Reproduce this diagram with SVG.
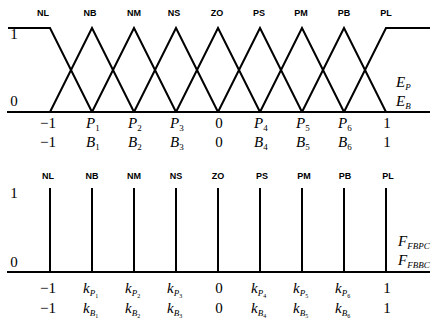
<svg xmlns="http://www.w3.org/2000/svg" width="433" height="320" viewBox="0 0 433 320">
<style>
.ln{stroke:#000;stroke-width:2;fill:none;stroke-linejoin:miter}
.tag{font-family:"Liberation Sans",Arial,sans-serif;font-size:9px;font-weight:bold;text-anchor:middle}
.num{font-family:"Liberation Serif","Times New Roman",serif;font-size:15px;text-anchor:middle}
.it{font-family:"Liberation Serif","Times New Roman",serif;font-size:15px;font-style:italic}
.sub{font-size:9px}
.d{font-style:normal}
.dd{font-style:normal;font-size:6px}
</style>
<rect width="433" height="320" fill="#fff"/>
<g id="top-chart">
<g id="top-axis"><line class="ln" x1="7" y1="112" x2="430" y2="112"/></g>
<g id="connectors">
<path class="ln" d="M8 28 H50 L92 112"/>
<path class="ln" d="M50 112 L92 28 L134 112"/>
<path class="ln" d="M92 112 L134 28 L176 112"/>
<path class="ln" d="M134 112 L176 28 L218 112"/>
<path class="ln" d="M176 112 L218 28 L260 112"/>
<path class="ln" d="M218 112 L260 28 L302 112"/>
<path class="ln" d="M260 112 L302 28 L344 112"/>
<path class="ln" d="M302 112 L344 28 L386 112"/>
<path class="ln" d="M344 112 L386 28 H430"/>
</g>
<g id="top-tags">
<text class="tag" x="43" y="16">NL</text>
<text class="tag" x="90" y="16">NB</text>
<text class="tag" x="134" y="16">NM</text>
<text class="tag" x="174" y="16">NS</text>
<text class="tag" x="217" y="16">ZO</text>
<text class="tag" x="259" y="16">PS</text>
<text class="tag" x="301" y="16">PM</text>
<text class="tag" x="344" y="16">PB</text>
<text class="tag" x="386" y="16">PL</text>
</g>
<text class="num" x="14" y="39">1</text>
<text class="num" x="14" y="106">0</text>
<g id="top-row1">
<text class="num" x="48" y="128">−1</text>
<text class="it" x="86" y="128">P<tspan class="sub d" dy="3">1</tspan></text>
<text class="it" x="128" y="128">P<tspan class="sub d" dy="3">2</tspan></text>
<text class="it" x="170" y="128">P<tspan class="sub d" dy="3">3</tspan></text>
<text class="num" x="219" y="128">0</text>
<text class="it" x="254" y="128">P<tspan class="sub d" dy="3">4</tspan></text>
<text class="it" x="296" y="128">P<tspan class="sub d" dy="3">5</tspan></text>
<text class="it" x="338" y="128">P<tspan class="sub d" dy="3">6</tspan></text>
<text class="num" x="387" y="128">1</text>
</g>
<g id="top-row2">
<text class="num" x="48" y="147">−1</text>
<text class="it" x="86" y="147">B<tspan class="sub d" dy="3">1</tspan></text>
<text class="it" x="128" y="147">B<tspan class="sub d" dy="3">2</tspan></text>
<text class="it" x="170" y="147">B<tspan class="sub d" dy="3">3</tspan></text>
<text class="num" x="219" y="147">0</text>
<text class="it" x="254" y="147">B<tspan class="sub d" dy="3">4</tspan></text>
<text class="it" x="296" y="147">B<tspan class="sub d" dy="3">5</tspan></text>
<text class="it" x="338" y="147">B<tspan class="sub d" dy="3">6</tspan></text>
<text class="num" x="387" y="147">1</text>
</g>
<text class="it" x="396" y="87">E<tspan class="sub" dy="3">P</tspan></text>
<text class="it" x="396" y="106">E<tspan class="sub" dy="3">B</tspan></text>
</g>
<g id="bottom-chart">
<g id="bottom-axis"><line class="ln" x1="7" y1="272" x2="430" y2="272"/></g>
<g id="singletons">
<line class="ln" x1="50" y1="188" x2="50" y2="272"/>
<line class="ln" x1="92" y1="188" x2="92" y2="272"/>
<line class="ln" x1="134" y1="188" x2="134" y2="272"/>
<line class="ln" x1="176" y1="188" x2="176" y2="272"/>
<line class="ln" x1="218" y1="188" x2="218" y2="272"/>
<line class="ln" x1="260" y1="188" x2="260" y2="272"/>
<line class="ln" x1="302" y1="188" x2="302" y2="272"/>
<line class="ln" x1="344" y1="188" x2="344" y2="272"/>
<line class="ln" x1="386" y1="188" x2="386" y2="272"/>
</g>
<g id="bottom-tags">
<text class="tag" x="48" y="179">NL</text>
<text class="tag" x="92" y="179">NB</text>
<text class="tag" x="134" y="179">NM</text>
<text class="tag" x="176" y="179">NS</text>
<text class="tag" x="218" y="179">ZO</text>
<text class="tag" x="262" y="179">PS</text>
<text class="tag" x="304" y="179">PM</text>
<text class="tag" x="345" y="179">PB</text>
<text class="tag" x="388" y="179">PL</text>
</g>
<text class="num" x="14" y="198">1</text>
<text class="num" x="14" y="267">0</text>
<g id="bottom-row1">
<text class="num" x="48" y="293">−1</text>
<text class="it" x="83" y="293">k<tspan class="sub" dy="3">P</tspan><tspan class="dd" dy="2">1</tspan></text>
<text class="it" x="125" y="293">k<tspan class="sub" dy="3">P</tspan><tspan class="dd" dy="2">2</tspan></text>
<text class="it" x="167" y="293">k<tspan class="sub" dy="3">P</tspan><tspan class="dd" dy="2">3</tspan></text>
<text class="num" x="219" y="293">0</text>
<text class="it" x="251" y="293">k<tspan class="sub" dy="3">P</tspan><tspan class="dd" dy="2">4</tspan></text>
<text class="it" x="293" y="293">k<tspan class="sub" dy="3">P</tspan><tspan class="dd" dy="2">5</tspan></text>
<text class="it" x="335" y="293">k<tspan class="sub" dy="3">P</tspan><tspan class="dd" dy="2">6</tspan></text>
<text class="num" x="387" y="293">1</text>
</g>
<g id="bottom-row2">
<text class="num" x="48" y="313">−1</text>
<text class="it" x="83" y="313">k<tspan class="sub" dy="3">B</tspan><tspan class="dd" dy="2">1</tspan></text>
<text class="it" x="125" y="313">k<tspan class="sub" dy="3">B</tspan><tspan class="dd" dy="2">2</tspan></text>
<text class="it" x="167" y="313">k<tspan class="sub" dy="3">B</tspan><tspan class="dd" dy="2">3</tspan></text>
<text class="num" x="219" y="313">0</text>
<text class="it" x="251" y="313">k<tspan class="sub" dy="3">B</tspan><tspan class="dd" dy="2">4</tspan></text>
<text class="it" x="293" y="313">k<tspan class="sub" dy="3">B</tspan><tspan class="dd" dy="2">5</tspan></text>
<text class="it" x="335" y="313">k<tspan class="sub" dy="3">B</tspan><tspan class="dd" dy="2">6</tspan></text>
<text class="num" x="387" y="313">1</text>
</g>
<text class="it" x="398" y="246">F<tspan class="sub" dy="3">FBPC</tspan></text>
<text class="it" x="398" y="265">F<tspan class="sub" dy="3">FBBC</tspan></text>
</g>
</svg>
